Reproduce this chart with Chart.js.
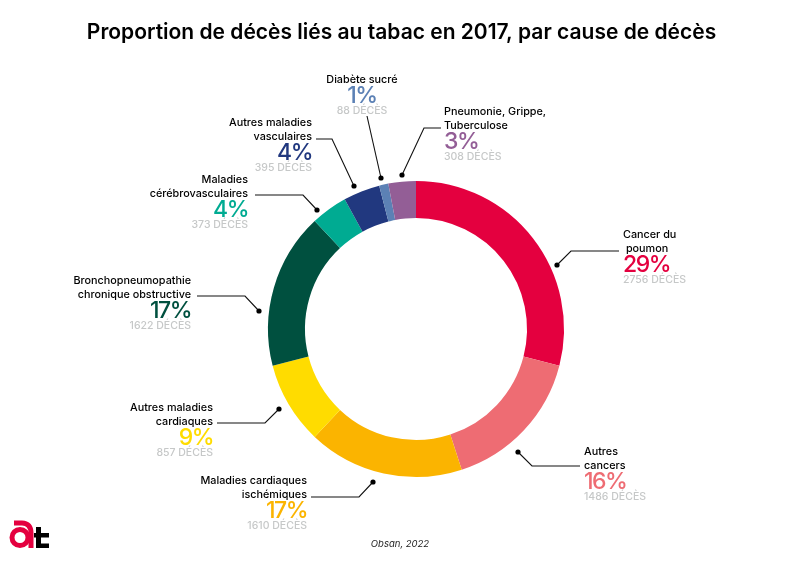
<!DOCTYPE html>
<html>
<head>
<meta charset="utf-8">
<style>
  html, body { margin: 0; padding: 0; background: #fff; }
  #wrap { position: relative; width: 800px; height: 565px; }
</style>
<script src="https://cdn.jsdelivr.net/npm/chart.js@4/dist/chart.umd.min.js"></script>
</head>
<body>
<div id="wrap"><canvas id="mainChart" width="800" height="565"></canvas></div>
<script>
const categories = ['Cancer du poumon', 'Autres cancers', 'Maladies cardiaques ischémiques', 'Autres maladies cardiaques', 'Bronchopneumopathie chronique obstructive', 'Maladies cérébrovasculaires', 'Autres maladies vasculaires', 'Diabète sucré', 'Pneumonie, Grippe, Tuberculose'];
const deaths = [2756, 1486, 1610, 857, 1622, 373, 395, 88, 308];
const percents = [29, 16, 17, 9, 17, 4, 4, 1, 3];
const colors = ['#E4003F', '#EE6C73', '#FBB400', '#FFDC00', '#00503F', '#00AB92', '#21387F', '#5C81B5', '#935E96'];

// label layout: text lines, anchor x, baselines and leader line, one per slice
const labelLines = [
    ['Cancer du', ' poumon'],
    ['Autres', 'cancers'],
    ['Maladies cardiaques', 'ischémiques'],
    ['Autres maladies', 'cardiaques'],
    ['Bronchopneumopathie', 'chronique obstructive'],
    ['Maladies', 'cérébrovasculaires'],
    ['Autres maladies', 'vasculaires'],
    ['Diabète sucré'],
    ['Pneumonie, Grippe,', 'Tuberculose']
];
const labelAlign = ['left', 'left', 'right', 'right', 'right', 'right', 'right', 'center', 'left'];
const labelX = [623, 584, 307, 213, 191, 248, 312, 362, 444];
const labelY = [238, 455, 484, 411, 284, 183, 126, 83, 115];
const leaders = [
    [[619, 251], [571, 251], [557, 265]],
    [[580, 466], [532, 466], [518, 452]],
    [[311, 497], [359, 497], [373, 482]],
    [[217, 423], [265, 423], [279, 409]],
    [[197, 296], [245, 296], [259, 311]],
    [[255, 195], [303, 195], [317, 210]],
    [[316, 139], [332, 139], [354, 186]],
    [[367, 116], [381, 178]],
    [[441, 128], [424, 128], [402, 175]]
];

const FONT = 'Inter, "Liberation Sans", sans-serif';

const calloutPlugin = {
    id: 'callouts',
    afterDraw(chart) {
        const ctx = chart.ctx;
        ctx.save();
        ctx.textBaseline = 'alphabetic';

        // title and source
        ctx.fillStyle = '#000';
        ctx.textAlign = 'center';
        ctx.font = '600 21px ' + FONT;
        ctx.fillText('Proportion de décès liés au tabac en 2017, par cause de décès', 401.5, 39);
        ctx.font = 'italic 9.5px ' + FONT;
        ctx.fillStyle = '#222';
        ctx.fillText('Obsan, 2022', 400, 547);

        labelLines.forEach((lines, i) => {
            ctx.textAlign = labelAlign[i];
            let y = labelY[i];
            ctx.fillStyle = '#000';
            ctx.font = '500 10.8px ' + FONT;
            lines.forEach((line, j) => {
                ctx.fillText(line, labelX[i], y + j * 13.5);
            });
            y += (lines.length - 1) * 13.5;
            ctx.fillStyle = colors[i];
            ctx.font = '500 23px ' + FONT;
            ctx.letterSpacing = '-1.5px';
            ctx.fillText(percents[i] + '%', labelX[i], y + 20);
            ctx.letterSpacing = '0px';
            ctx.fillStyle = '#C6C8C8';
            ctx.font = '500 10.5px ' + FONT;
            ctx.fillText(deaths[i] + ' DÉCÈS', labelX[i], y + 31);

            // leader line with dot
            const pts = leaders[i];
            ctx.strokeStyle = '#111';
            ctx.lineWidth = 1.1;
            ctx.beginPath();
            pts.forEach((p, k) => { k ? ctx.lineTo(p[0], p[1]) : ctx.moveTo(p[0], p[1]); });
            ctx.stroke();
            const end = pts[pts.length - 1];
            ctx.fillStyle = '#000';
            ctx.beginPath();
            ctx.arc(end[0], end[1], 2.6, 0, Math.PI * 2);
            ctx.fill();
        });

        // at logo
        ctx.strokeStyle = '#E4003F';
        ctx.lineWidth = 5;
        ctx.beginPath();
        ctx.arc(20, 537.5, 8, 0, Math.PI * 2);
        ctx.stroke();
        ctx.beginPath();
        ctx.moveTo(14, 523);
        ctx.lineTo(22, 523);
        ctx.bezierCurveTo(28, 523, 31, 527, 31, 533);
        ctx.lineTo(31, 548);
        ctx.stroke();
        ctx.fillStyle = '#000';
        ctx.fillRect(34, 533, 15, 4.5);
        ctx.fillRect(36, 527, 5, 21);
        ctx.fillRect(36, 543.5, 13, 4.5);
        ctx.restore();
    }
};

new Chart(document.getElementById('mainChart').getContext('2d'), {
    type: 'doughnut',
    data: {
        labels: categories,
        datasets: [{ data: percents, backgroundColor: colors, borderWidth: 0 }]
    },
    options: {
        responsive: false,
        animation: false,
        devicePixelRatio: 1,
        cutout: '75%',
        layout: { padding: { left: 268, right: 236, top: 181, bottom: 88 } },
        plugins: { legend: { display: false }, tooltip: { enabled: false } }
    },
    plugins: [calloutPlugin]
});
</script>
</body>
</html>
